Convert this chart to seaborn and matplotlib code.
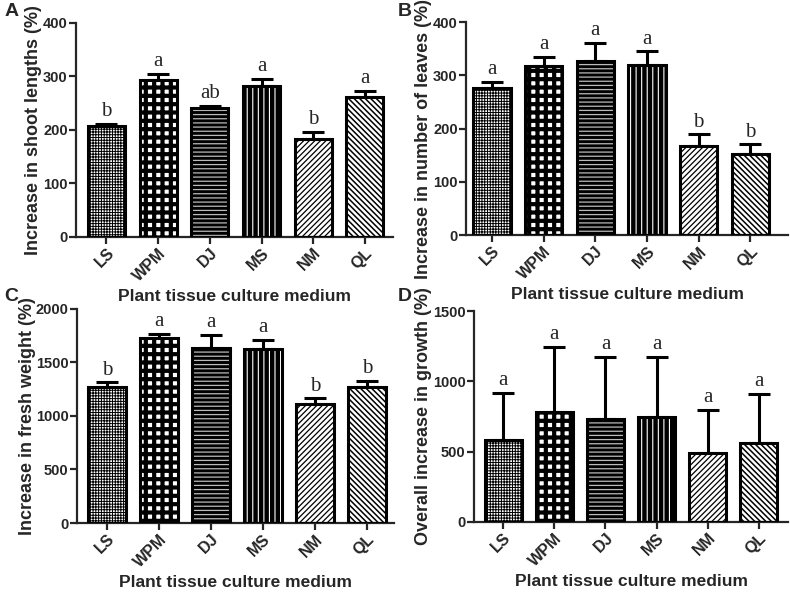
import matplotlib
matplotlib.use("Agg")
import matplotlib.pyplot as plt
from matplotlib.patches import Rectangle
import pandas as pd
import seaborn as sns

media = ["LS", "WPM", "DJ", "MS", "NM", "QL"]

shoot_mean = [207, 293, 242, 283, 183, 262]
shoot_err = [4, 12, 3, 13, 14, 11]
shoot_letters = ["b", "a", "ab", "a", "b", "a"]

leaves_mean = [276, 318, 327, 319, 168, 152]
leaves_err = [11, 16, 34, 26, 21, 18]
leaves_letters = ["a", "a", "a", "a", "b", "b"]

fresh_mean = [1270, 1725, 1632, 1626, 1114, 1270]
fresh_err = [44, 41, 125, 87, 50, 59]
fresh_letters = ["b", "a", "a", "a", "b", "b"]

growth_mean = [582, 781, 729, 743, 487, 563]
growth_err = [338, 463, 447, 433, 310, 348]
growth_letters = ["a", "a", "a", "a", "a", "a"]

# face colour, hatch colour, hatch, hatch linewidth
styles = {
    "LS": ("white", "black", "++++++", 0.7),
    "WPM": ("white", "black", "++", 3.0),
    "DJ": ("black", "#bbbbbb", "----", 0.9),
    "MS": ("black", "white", "|||", 0.8),
    "NM": ("white", "black", "//////", 0.9),
    "QL": ("white", "black", "\\\\\\\\\\\\", 1.1),
}

sns.set_style("ticks")
plt.rcParams["font.family"] = ["Liberation Sans", "DejaVu Sans"]
plt.rcParams["font.weight"] = "bold"

fig = plt.figure(figsize=(7.9, 5.95), dpi=100)


def panel(rect, xlim, means, errs, letters, ylabel, ymax, ystep, tag, tagpos,
          ylab_xy):
    ax = fig.add_axes(rect)
    df = pd.DataFrame({"medium": media, "value": means})
    sns.barplot(data=df, x="medium", y="value", order=media, color="white",
                width=0.72, errorbar=None, ax=ax, zorder=2)
    ax.errorbar(range(len(media)), means, yerr=[[0] * len(errs), errs],
                fmt="none", ecolor="black", elinewidth=2.2, capsize=8,
                capthick=2.2, zorder=1)
    bars = list(ax.patches)
    for p, m in zip(bars, media):
        face, hc, hatch, hlw = styles[m]
        p.set_facecolor(face)
        p.set_edgecolor(hc)
        p.set_linewidth(0)
        p.set_hatch(hatch)
        if hasattr(p, "set_hatch_linewidth"):
            p.set_hatch_linewidth(hlw)
        ax.add_patch(Rectangle(p.get_xy(), p.get_width(), p.get_height(),
                               fill=False, edgecolor="black", linewidth=2.2,
                               zorder=3))
    for i, (m, e, t) in enumerate(zip(means, errs, letters)):
        ax.annotate(t, xy=(i, m + e), xytext=(0, 2), textcoords="offset points",
                    ha="center", va="bottom", fontfamily="Liberation Serif",
                    fontweight="normal", fontsize=15)
    ax.set_xlim(*xlim)
    ax.set_ylim(0, ymax)
    ax.set_yticks(range(0, ymax + 1, ystep))
    sns.despine(ax=ax)
    for s in ["left", "bottom"]:
        ax.spines[s].set_linewidth(1.6)
    ax.tick_params(width=1.6, length=5, pad=1)
    ax.tick_params(axis="x", labelsize=11.5)
    ax.tick_params(axis="y", labelsize=10.5)
    plt.setp(ax.get_xticklabels(), rotation=45, ha="right",
             rotation_mode="anchor")
    ax.set_xlabel("Plant tissue culture medium", fontsize=12.5,
                  fontweight="bold", labelpad=4)
    ax.set_ylabel(ylabel, fontsize=13, fontweight="bold")
    ax.yaxis.set_label_coords(*ylab_xy)
    fig.text(tagpos[0], tagpos[1], tag, fontsize=14, fontweight="bold",
             va="top", ha="left")
    return ax


panel([0.0962, 0.6017, 0.401, 0.3597], (-0.59, 5.54), shoot_mean, shoot_err,
      shoot_letters, "Increase in shoot lengths (%)", 400, 100, "A",
      (0.006, 0.995), (-0.106, 0.5))
panel([0.590, 0.605, 0.4076, 0.358], (-0.5, 5.73), leaves_mean, leaves_err,
      leaves_letters, "Increase in number of leaves (%)", 400, 100, "B",
      (0.503, 0.995), (-0.105, 0.45))
panel([0.0975, 0.121, 0.401, 0.3597], (-0.58, 5.52), fresh_mean, fresh_err,
      fresh_letters, "Increase in fresh weight (%)", 2000, 500, "C",
      (0.006, 0.516), (-0.13, 0.5))
panel([0.600, 0.1227, 0.3975, 0.3546], (-0.57, 5.57), growth_mean, growth_err,
      growth_letters, "Overall increase in growth (%)", 1500, 500, "D",
      (0.503, 0.516), (-0.135, 0.5))

fig.savefig("out.png", dpi=100)
